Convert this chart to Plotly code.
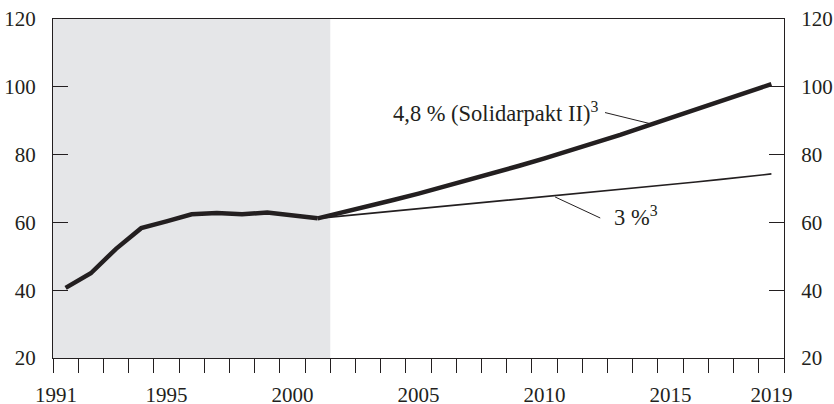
import plotly.graph_objects as go

hist_years = list(range(1991, 2002))
hist_values = [40.7, 45.0, 52.2, 58.3, 60.3, 62.4, 62.8, 62.4, 62.9, 62.1, 61.2]

proj_years = list(range(2001, 2020))
proj_48 = [61.2, 62.9, 64.7, 66.6, 68.5, 70.5, 72.5, 74.6, 76.7, 78.9, 81.1,
           83.4, 85.8, 88.3, 90.8, 93.2, 95.7, 98.2, 100.8]
proj_3 = [61.2, 61.9, 62.6, 63.3, 64.0, 64.7, 65.4, 66.1, 66.8, 67.5, 68.2,
          68.9, 69.6, 70.4, 71.1, 71.9, 72.7, 73.5, 74.3]

x_tick_vals = [1990.62, 1995, 2000, 2005, 2010, 2015, 2019]
x_tick_text = ["1991", "1995", "2000", "2005", "2010", "2015", "2019"]
y_ticks = [20, 40, 60, 80, 100, 120]

INK = "#231f20"
FAMILY = "Liberation Serif, Times New Roman, serif"
FONT = dict(family=FAMILY, size=21, color=INK)
ANN_FONT = dict(family=FAMILY, size=22.5, color=INK)

fig = go.Figure()

fig.add_trace(go.Scatter(x=proj_years, y=proj_3, mode="lines",
                         line=dict(color=INK, width=1.6), hoverinfo="skip"))
fig.add_trace(go.Scatter(x=proj_years, y=proj_48, mode="lines",
                         line=dict(color=INK, width=4.5), hoverinfo="skip"))
fig.add_trace(go.Scatter(x=hist_years, y=hist_values, mode="lines",
                         line=dict(color=INK, width=4.5), hoverinfo="skip"))
# invisible trace to activate right axis
fig.add_trace(go.Scatter(x=hist_years, y=hist_values, mode="lines", yaxis="y2",
                         line=dict(width=0), opacity=0, hoverinfo="skip"))

fig.add_shape(type="rect", xref="x", yref="y", x0=1990.5, x1=2001.5, y0=20, y1=120,
              fillcolor="#e5e6e8", line=dict(width=0), layer="below")

# leader lines
fig.add_shape(type="line", xref="x", yref="y", x0=2012.40, y0=92.4, x1=2014.15, y1=89.2,
              line=dict(color=INK, width=1))
fig.add_shape(type="line", xref="x", yref="y", x0=2010.42, y0=67.5, x1=2012.21, y1=61.3,
              line=dict(color=INK, width=1))

fig.add_annotation(x=2012.2, y=92.6, xref="x", yref="y", text="4,8 % (Solidarpakt II)<sup>3</sup>",
                   showarrow=False, xanchor="right", yanchor="middle", font=ANN_FONT)
fig.add_annotation(x=2012.67, y=62.0, xref="x", yref="y", text="3 %<sup>3</sup>",
                   showarrow=False, xanchor="left", yanchor="middle", font=ANN_FONT)

fig.update_layout(
    width=834, height=404,
    margin=dict(l=53, r=50, t=19, b=46),
    paper_bgcolor="white", plot_bgcolor="white",
    showlegend=False,
    font=FONT,
    xaxis=dict(range=[1990.5, 2019.5], tickvals=x_tick_vals, ticktext=x_tick_text,
               ticks="outside", ticklen=18, tickcolor="rgba(0,0,0,0)",
               showgrid=False, zeroline=False, showline=True, linecolor=INK, linewidth=1.2,
               mirror=True, automargin=False, ticklabeloverflow="allow",
               minor=dict(tickvals=[y + 0.5 for y in range(1990, 2020)], ticks="outside",
                          ticklen=14, tickcolor=INK, tickwidth=1, showgrid=False),
               tickfont=FONT),
    yaxis=dict(range=[20, 120], tickvals=y_ticks, ticks="inside", ticklen=15,
               tickcolor=INK, tickwidth=1, showgrid=False, zeroline=False,
               showline=True, linecolor=INK, linewidth=1.2, tickfont=FONT,
               ticklabelstandoff=12, automargin=False, ticklabeloverflow="allow"),
    yaxis2=dict(range=[20, 120], tickvals=y_ticks, ticks="inside", ticklen=15,
                tickcolor=INK, tickwidth=1, showgrid=False, zeroline=False,
                showline=True, linecolor=INK, linewidth=1.2, tickfont=FONT,
                overlaying="y", side="right", ticklabelstandoff=12, automargin=False,
                ticklabeloverflow="allow"),
)

fig.write_html("out.html", config={"displayModeBar": False},
               post_script="document.body.style.margin='0';document.body.style.overflow='hidden';")
